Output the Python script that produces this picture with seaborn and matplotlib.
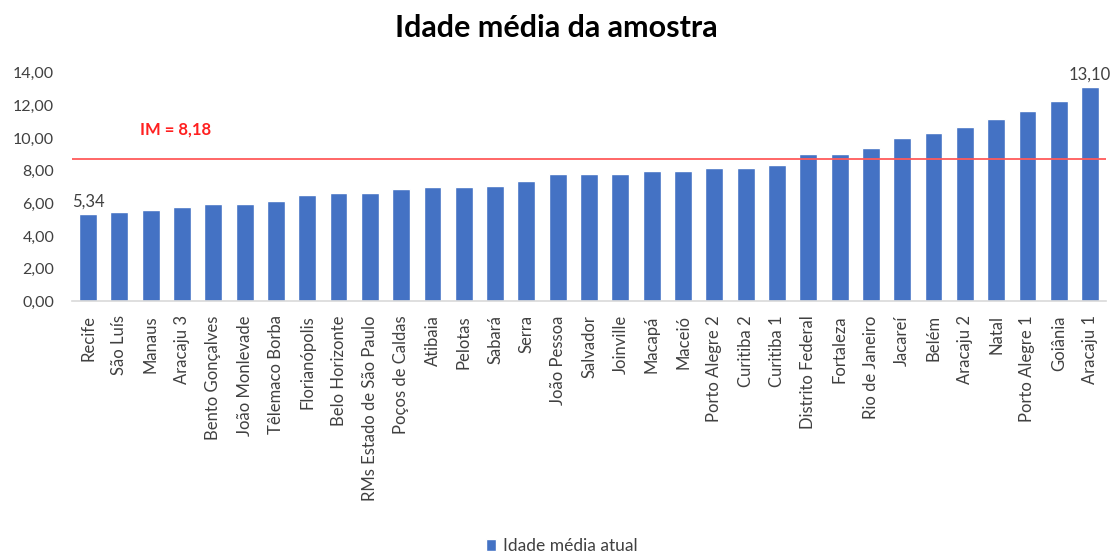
import matplotlib
matplotlib.use("Agg")
import matplotlib.pyplot as plt
import seaborn as sns
import pandas as pd

cidades = ["Recife", "São Luís", "Manaus", "Aracaju 3", "Bento Gonçalves", "João Monlevade",
           "Têlemaco Borba", "Florianópolis", "Belo Horizonte", "RMs Estado de São Paulo",
           "Poços de Caldas", "Atibaia", "Pelotas", "Sabará", "Serra", "João Pessoa",
           "Salvador", "Joinville", "Macapá", "Maceió", "Porto Alegre 2", "Curitiba 2",
           "Curitiba 1", "Distrito Federal", "Fortaleza", "Rio de Janeiro", "Jacareí", "Belém",
           "Aracaju 2", "Natal", "Porto Alegre 1", "Goiânia", "Aracaju 1"]
idade = [5.34, 5.50, 5.58, 5.78, 5.97, 5.97, 6.14, 6.52, 6.62, 6.62, 6.88, 7.00, 7.00, 7.08,
         7.36, 7.82, 7.82, 7.82, 7.98, 7.98, 8.19, 8.19, 8.36, 9.03, 9.03, 9.39, 10.03, 10.34,
         10.70, 11.17, 11.63, 12.28, 13.10]
serie = "Idade média atual"
im_label = "IM = 8,18"
im_line_y = 8.7
yticks = [0, 2, 4, 6, 8, 10, 12, 14]

sns.set_theme(style="white")
plt.rcParams['font.family'] = ['Lato', 'DejaVu Sans']

df = pd.DataFrame({"cidade": cidades, "idade": idade, "serie": serie})

fig = plt.figure(figsize=(11.13, 5.6), dpi=100)
ax = fig.add_axes([0.065, 0.462, 0.9285, 0.408])

sns.barplot(data=df, x="cidade", y="idade", hue="serie", palette=["#4472C4"],
            saturation=1, width=0.57, ax=ax, legend=True)

ax.set_ylim(0, 14)
ax.set_xlim(-0.5, len(cidades) - 0.5)
ax.set_yticks(yticks)
ax.set_yticklabels([f"{v:.2f}".replace(".", ",") for v in yticks], color="#404040", fontsize=11.5)
ax.set_xticks(range(len(cidades)))
ax.set_xticklabels(cidades, rotation=90, color="#404040", fontsize=12)
ax.tick_params(axis="y", length=0, pad=13)
ax.tick_params(axis="x", length=0, pad=10)
ax.set_xlabel("")
ax.set_ylabel("")
for s in ["top", "right", "left"]:
    ax.spines[s].set_visible(False)
ax.spines["bottom"].set_color("#D9D9D9")
ax.spines["bottom"].set_linewidth(1.2)

ax.axhline(im_line_y, color="#FF5A5A", lw=1.3, xmin=0, xmax=1, zorder=3)
ax.text(2.8, 10.55, im_label, color="#FF2020", fontsize=12, fontweight="bold",
        ha="center", va="center")

ax.text(0, idade[0] + 0.3, f"{idade[0]:.2f}".replace(".", ","), ha="center", va="bottom",
        fontsize=12, color="#404040")
ax.text(len(idade) - 1, idade[-1] + 0.3, f"{idade[-1]:.2f}".replace(".", ","), ha="center",
        va="bottom", fontsize=12, color="#404040")

fig.suptitle("Idade média da amostra", x=0.5, y=0.975, fontsize=22, fontweight="bold",
             color="#000000")

sns.move_legend(ax, "lower center", bbox_to_anchor=(0.505, -0.005), bbox_transform=fig.transFigure,
                frameon=False, title=None, fontsize=12.5, handlelength=0.6, handleheight=0.6,
                handletextpad=0.4, borderaxespad=0.1)
for t in ax.get_legend().get_texts():
    t.set_color("#404040")

fig.savefig("out.png", dpi=100)
